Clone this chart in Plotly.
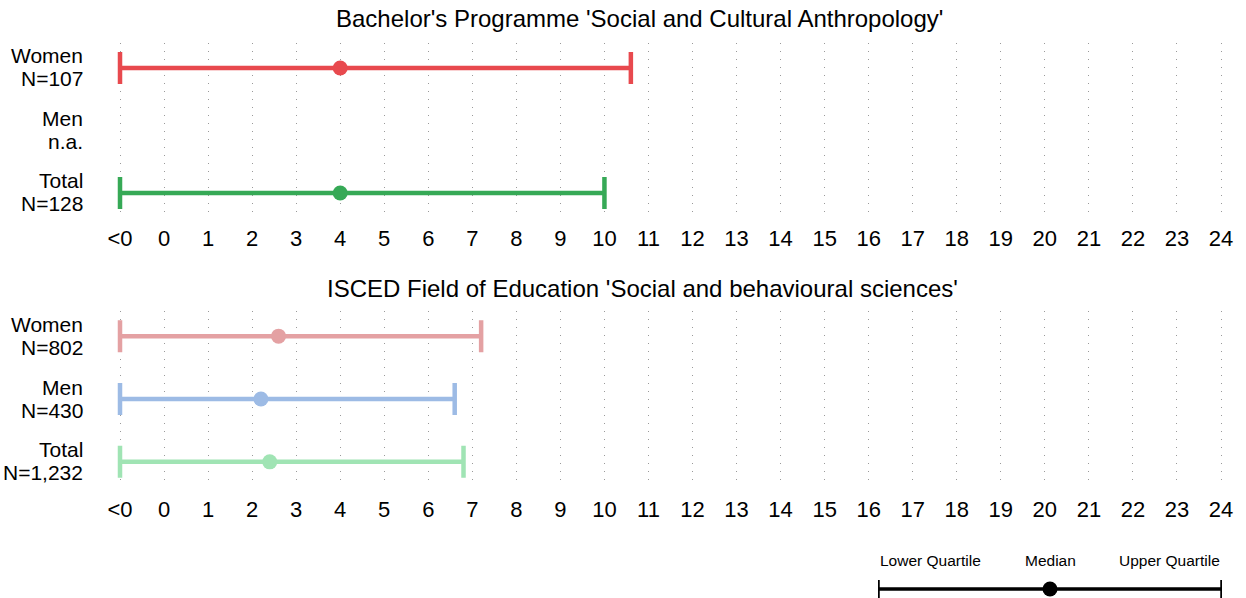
import plotly.graph_objects as go

# ---------------- data ----------------
tick_positions = [-1, 0, 1, 2, 3, 4, 5, 6, 7, 8, 9, 10, 11, 12, 13, 14, 15, 16, 17, 18, 19, 20, 21, 22, 23, 24]
tick_labels = ["<0", "0", "1", "2", "3", "4", "5", "6", "7", "8", "9", "10", "11", "12",
               "13", "14", "15", "16", "17", "18", "19", "20", "21", "22", "23", "24"]

top_title = "Bachelor's Programme 'Social and Cultural Anthropology'"
top_groups = ["Women", "Men", "Total"]
top_counts = ["N=107", "n.a.", "N=128"]
top_lower = [-1, None, -1]          # -1 = "<0" bucket
top_median = [4.0, None, 4.0]
top_upper = [10.6, None, 10.0]
top_colors = ["#E8494E", "#9DBBE5", "#36A956"]

bottom_title = "ISCED Field of Education 'Social and behavioural sciences'"
bottom_groups = ["Women", "Men", "Total"]
bottom_counts = ["N=802", "N=430", "N=1,232"]
bottom_lower = [-1, -1, -1]
bottom_median = [2.6, 2.2, 2.4]
bottom_upper = [7.2, 6.6, 6.8]
bottom_colors = ["#E4A1A3", "#9DBBE5", "#A0E4B4"]

legend_labels = ["Lower Quartile", "Median", "Upper Quartile"]
legend_values = [0.0, 0.5, 1.0]

# ---------------- figure ----------------
W, H = 1246, 598
OFF = 0  # page body margin removed via post_script
FONT = "Liberation Sans, Arial, sans-serif"

def px_x(p):
    return (p - OFF) / W

def px_y(p):
    return 1 - (p - OFF) / H

fig = go.Figure()

def add_panel(lower, median, upper, colors, xa, ya):
    for i in range(len(median)):
        if median[i] is None:
            continue
        fig.add_trace(go.Scatter(
            x=[median[i]], y=[i], xaxis=xa, yaxis=ya, mode="markers",
            marker=dict(size=15, color=colors[i]),
            error_x=dict(type="data", symmetric=False,
                         array=[upper[i] - median[i]],
                         arrayminus=[median[i] - lower[i]],
                         thickness=4.5, width=16, color=colors[i]),
            showlegend=False, hoverinfo="x+y"))

add_panel(top_lower, top_median, top_upper, top_colors, "x", "y")
add_panel(bottom_lower, bottom_median, bottom_upper, bottom_colors, "x2", "y2")

# legend key
fig.add_trace(go.Scatter(
    x=[legend_values[1]], y=[0], xaxis="x3", yaxis="y3", mode="markers",
    marker=dict(size=15, color="black"),
    error_x=dict(type="data", symmetric=False,
                 array=[legend_values[2] - legend_values[1]],
                 arrayminus=[legend_values[1] - legend_values[0]],
                 thickness=3.5, width=9, color="black"),
    showlegend=False, hoverinfo="skip"))

# x axis geometry: "<0" at 120px, "24" at 1221px (screen px)
x_left_px, x_right_px = 100, 1240
slope = (1221 - 120) / 25.0
r0 = -1 - (120 - x_left_px) / slope
r1 = r0 + (x_right_px - x_left_px) / slope

xcommon = dict(range=[r0, r1], tickvals=tick_positions, ticktext=tick_labels,
               showgrid=True, gridcolor="#9a9a9a", gridwidth=1, griddash="1px,7px",
               zeroline=False, showline=False, ticks="",
               tickfont=dict(size=22, color="black", family=FONT),
               domain=[px_x(x_left_px), px_x(x_right_px)], fixedrange=True)

ycommon = dict(range=[2.4, -0.4], tickvals=[0, 1, 2], showticklabels=False,
               showgrid=False, zeroline=False, showline=False, ticks="",
               fixedrange=True)

fig.update_layout(
    width=W, height=H,
    margin=dict(l=0, r=0, t=0, b=0),
    paper_bgcolor="white", plot_bgcolor="white",
    font=dict(family=FONT, color="black"),
    xaxis=dict(**xcommon, anchor="y", ticklabelstandoff=5),
    yaxis=dict(**ycommon, anchor="x", domain=[px_y(218), px_y(43)]),
    xaxis2=dict(**xcommon, anchor="y2", ticklabelstandoff=7),
    yaxis2=dict(**ycommon, anchor="x2", domain=[px_y(487), px_y(311)]),
    xaxis3=dict(range=[0, 1], domain=[px_x(878), px_x(1222)], visible=False,
                anchor="y3", fixedrange=True),
    yaxis3=dict(range=[-1, 1], domain=[px_y(598), px_y(580)], visible=False,
                anchor="x3", fixedrange=True),
)

annotations = [
    dict(text=top_title, x=px_x(640), y=px_y(19), xref="paper", yref="paper",
         xanchor="center", yanchor="middle", showarrow=False,
         font=dict(size=24, color="black", family=FONT)),
    dict(text=bottom_title, x=px_x(642), y=px_y(288), xref="paper", yref="paper",
         xanchor="center", yanchor="middle", showarrow=False,
         font=dict(size=24, color="black", family=FONT)),
]

def add_row_labels(groups, counts, yref):
    for i, (g, c) in enumerate(zip(groups, counts)):
        for txt, shift in ((g, 12), (c, -11)):
            annotations.append(dict(text=txt, x=px_x(85), xref="paper", y=i, yref=yref,
                                    yshift=shift, xanchor="right", yanchor="middle",
                                    showarrow=False,
                                    font=dict(size=21, color="black", family=FONT)))

add_row_labels(top_groups, top_counts, "y")
add_row_labels(bottom_groups, bottom_counts, "y2")

anchors = ["left", "center", "right"]
for lab, val, anc in zip(legend_labels, legend_values, anchors):
    annotations.append(dict(text=lab, x=val, xref="x3", y=px_y(560), yref="paper",
                            xanchor=anc, yanchor="middle", showarrow=False,
                            font=dict(size=15.5, color="black", family=FONT)))
fig.update_layout(annotations=annotations)

fig.write_html("out.html",
               config={"displayModeBar": False},
               post_script="document.body.style.margin='0px';document.body.style.overflow='hidden';")
